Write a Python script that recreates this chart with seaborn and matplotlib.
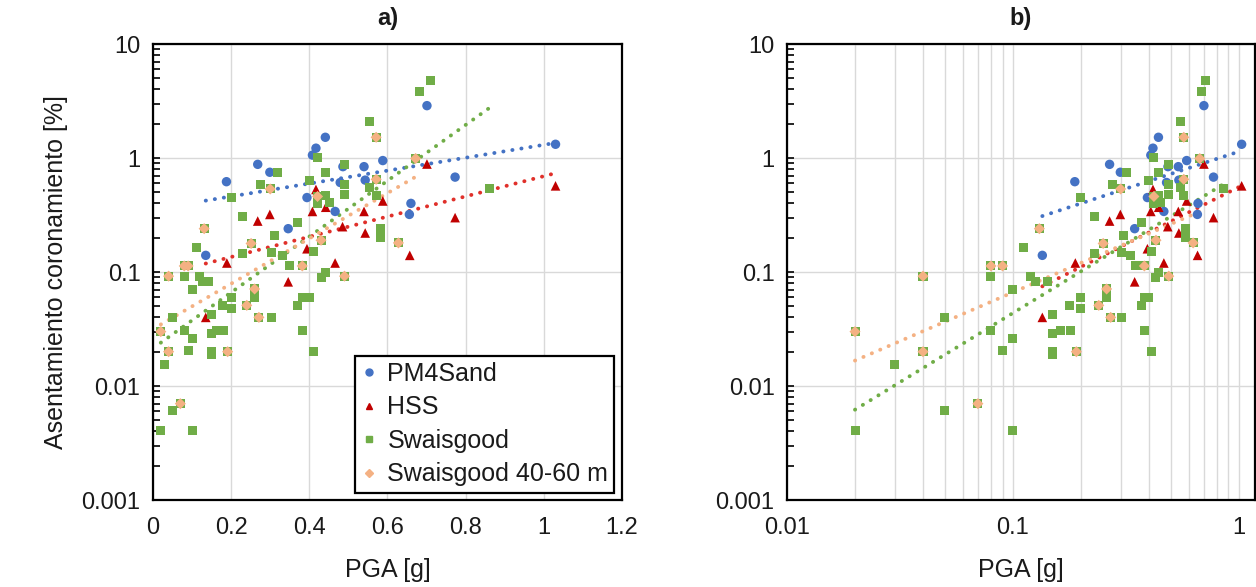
import numpy as np
import pandas as pd
import matplotlib
matplotlib.use("Agg")
import matplotlib.pyplot as plt
import seaborn as sns
from matplotlib.ticker import LogLocator, FixedLocator, NullFormatter
from matplotlib.lines import Line2D

# ---- data: PGA [g] vs crest settlement [%] ----
pm4_x = [0.135, 0.188, 0.268, 0.299, 0.346, 0.394, 0.408, 0.417, 0.441, 0.466,
         0.479, 0.486, 0.540, 0.543, 0.588, 0.656, 0.660, 0.701, 0.773, 1.030]
pm4_y = [0.14, 0.62, 0.88, 0.75, 0.24, 0.45, 1.06, 1.22, 1.52, 0.34,
         0.61, 0.84, 0.84, 0.64, 0.95, 0.32, 0.40, 2.88, 0.68, 1.32]

hss_x = [0.135, 0.189, 0.268, 0.299, 0.346, 0.394, 0.408, 0.417, 0.442, 0.466,
         0.485, 0.540, 0.543, 0.588, 0.657, 0.701, 0.773, 1.030]
hss_y = [0.040, 0.12, 0.28, 0.32, 0.082, 0.16, 0.34, 0.53, 0.37, 0.12,
         0.25, 0.34, 0.22, 0.42, 0.14, 0.886, 0.30, 0.57]

# Swaisgood 40-60 m subset
deep_x = [0.02, 0.04, 0.04, 0.08, 0.09, 0.07, 0.131, 0.30, 0.421, 0.251, 0.43,
          0.571, 0.571, 0.672, 0.628, 0.382, 0.49, 0.26, 0.24, 0.271, 0.191]
deep_y = [0.030, 0.092, 0.020, 0.113, 0.113, 0.007, 0.24, 0.535, 0.46, 0.178, 0.19,
          1.52, 0.65, 0.99, 0.18, 0.113, 0.092, 0.071, 0.051, 0.040, 0.020]

# remaining Swaisgood cases
swg_x = [0.421, 0.49, 0.319, 0.442, 0.40, 0.275, 0.49, 0.20, 0.442, 0.49,
         0.421, 0.451, 0.23, 0.37, 0.31, 0.111, 0.71, 0.681, 0.553, 0.553,
         0.571, 0.86, 0.582, 0.582, 0.23, 0.302, 0.411, 0.331, 0.35, 0.08,
         0.12, 0.126, 0.142, 0.10, 0.20, 0.26, 0.179, 0.20, 0.15, 0.05,
         0.302, 0.37, 0.382, 0.40, 0.43, 0.442, 0.08, 0.10, 0.15, 0.163,
         0.18, 0.382, 0.09, 0.15, 0.15, 0.411, 0.03, 0.05, 0.02, 0.10]
swg_y = [1.02, 0.886, 0.75, 0.75, 0.64, 0.59, 0.59, 0.45, 0.47, 0.48,
         0.40, 0.41, 0.306, 0.27, 0.21, 0.163, 4.8, 3.8, 2.11, 0.55,
         0.47, 0.54, 0.24, 0.20, 0.144, 0.148, 0.15, 0.14, 0.113, 0.092,
         0.092, 0.082, 0.082, 0.070, 0.060, 0.060, 0.051, 0.048, 0.042, 0.040,
         0.040, 0.051, 0.060, 0.060, 0.090, 0.100, 0.0306, 0.026, 0.0286, 0.0306,
         0.0306, 0.0306, 0.0204, 0.020, 0.019, 0.020, 0.0153, 0.0061, 0.0041, 0.0041]

# full Swaisgood series includes the 40-60 m cases
swa_x = swg_x + deep_x
swa_y = swg_y + deep_y

labels = ["PM4Sand", "HSS", "Swaisgood", "Swaisgood 40-60 m"]
colors = ["#4472C4", "#C00000", "#70AD47", "#F4B183"]
trend_colors = ["#4472C4", "#E0302A", "#70AD47", "#F4B183"]

series = [(pm4_x, pm4_y), (hss_x, hss_y), (swa_x, swa_y), (deep_x, deep_y)]
marker_kw = [dict(marker="o", s=46), dict(marker="^", s=48),
             dict(marker="s", s=42), dict(marker="D", s=32)]

sns.set_theme(style="white")
plt.rcParams["font.family"] = ["Liberation Sans", "DejaVu Sans"]
for key in ["text.color", "axes.labelcolor", "xtick.labelcolor", "ytick.labelcolor"]:
    plt.rcParams[key] = "#1a1a1a"

fig = plt.figure(figsize=(12.56, 5.87), dpi=100)
axL = fig.add_axes([0.1218, 0.1482, 0.3734, 0.7768])
axR = fig.add_axes([0.6266, 0.1482, 0.3726, 0.7768])

dot_style = dict(linestyle=(0, (0.05, 2.3)), linewidth=2.8,
                 dash_capstyle="round", zorder=3)


def exp_trend(x, y):
    x = np.asarray(x); y = np.asarray(y)
    b, a = np.polyfit(x, np.log(y), 1)
    xs = np.linspace(x.min(), x.max(), 300)
    return xs, np.exp(a + b * xs)


def pow_trend(x, y):
    x = np.asarray(x); y = np.asarray(y)
    b, a = np.polyfit(np.log(x), np.log(y), 1)
    xs = np.geomspace(x.min(), x.max(), 300)
    return xs, np.exp(a) * xs ** b


for ax, trend in [(axL, exp_trend), (axR, pow_trend)]:
    for (x, y), lab, col, mk in zip(series, labels, colors, marker_kw):
        df = pd.DataFrame({"PGA": x, "S": y})
        sns.scatterplot(data=df, x="PGA", y="S", ax=ax, color=col,
                        edgecolor="none", linewidth=0, zorder=4, legend=False, **mk)
    for (x, y), col in zip(series, trend_colors):
        xs, ys = trend(x, y)
        ax.plot(xs, ys, color=col, **dot_style)

    ax.set_yscale("log")
    ax.set_ylim(0.001, 10)
    ax.yaxis.set_major_locator(FixedLocator([0.001, 0.01, 0.1, 1, 10]))
    ax.set_yticklabels(["0.001", "0.01", "0.1", "1", "10"])
    ax.yaxis.set_minor_locator(LogLocator(base=10, subs=np.arange(2, 10)))
    ax.yaxis.set_minor_formatter(NullFormatter())
    ax.tick_params(axis="y", which="both", direction="in", length=5, width=1.2,
                   color="black", left=True, labelsize=17, pad=9)
    ax.tick_params(axis="x", which="both", length=0, labelsize=17, pad=12)
    ax.grid(True, which="major", axis="y", color="#d9d9d9", linewidth=1.0)
    for sp in ax.spines.values():
        sp.set_color("black")
        sp.set_linewidth(1.6)
        sp.set_zorder(6)
    ax.set_xlabel("PGA [g]", fontsize=18, labelpad=14)
    ax.set_axisbelow(True)

# left panel: linear x
axL.set_xlim(0, 1.2)
axL.xaxis.set_major_locator(FixedLocator([0, 0.2, 0.4, 0.6, 0.8, 1.0, 1.2]))
axL.set_xticklabels(["0", "0.2", "0.4", "0.6", "0.8", "1", "1.2"])
axL.grid(True, which="major", axis="x", color="#d9d9d9", linewidth=1.0)
axL.set_ylabel("Asentamiento coronamiento [%]", fontsize=18, labelpad=10)
axL.set_title("a)", fontsize=17, fontweight="bold", pad=14)

# right panel: log x
axR.set_xscale("log")
axR.set_xlim(0.01, 1.18)
axR.xaxis.set_major_locator(FixedLocator([0.01, 0.1, 1]))
axR.set_xticklabels(["0.01", "0.1", "1"])
axR.xaxis.set_minor_locator(LogLocator(base=10, subs=np.arange(2, 10)))
axR.xaxis.set_minor_formatter(NullFormatter())
axR.grid(True, which="both", axis="x", color="#d9d9d9", linewidth=1.0)
axR.set_ylabel("")
axR.set_title("b)", fontsize=17, fontweight="bold", pad=14)

handles = [
    Line2D([], [], linestyle="none", marker="o", markersize=5, color=colors[0]),
    Line2D([], [], linestyle="none", marker="^", markersize=5, color=colors[1]),
    Line2D([], [], linestyle="none", marker="s", markersize=5, color=colors[2]),
    Line2D([], [], linestyle="none", marker="D", markersize=4.5, color=colors[3]),
]
leg = axL.legend(handles, labels, loc="lower right", fontsize=18,
                 frameon=True, fancybox=False, edgecolor="black",
                 framealpha=1, borderpad=0.25, labelspacing=0.38,
                 handlelength=0.6, handletextpad=0.45, borderaxespad=0.3)
leg.get_frame().set_linewidth(1.6)
leg.set_zorder(10)

fig.savefig("out.png", dpi=100, facecolor="white")
